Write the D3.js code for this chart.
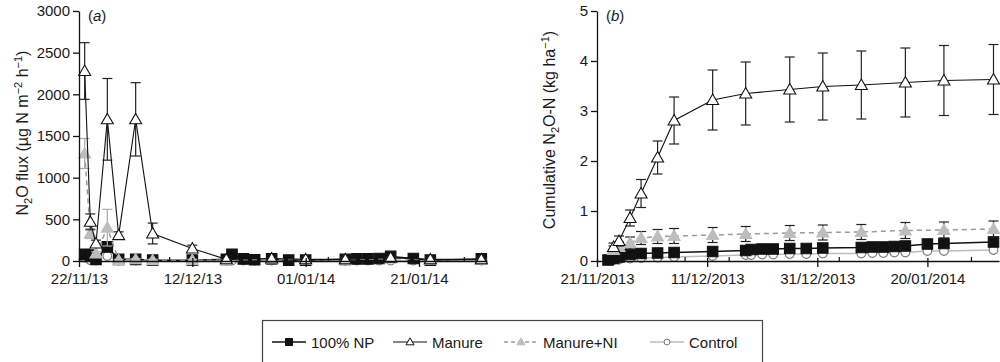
<!DOCTYPE html>
<html>
<head>
<meta charset="utf-8">
<script src="https://cdn.jsdelivr.net/npm/d3@7"></script>
<style>
  body { margin: 0; background: #fff; }
  svg { display: block; font-family: "Liberation Sans", Arial, sans-serif; }
  .axis path, .axis line { stroke: #111; stroke-width: 1.3; }
  .axis text { font-size: 15px; fill: #1a1a1a; font-family: "Liberation Sans", Arial, sans-serif; }
</style>
</head>
<body>
<div id="chart"></div>
<script>
// sampling dates (dd/mm/yyyy)
const sampleDates = ["23/11/2013", "24/11/2013", "25/11/2013", "27/11/2013", "29/11/2013", "02/12/2013",
    "05/12/2013", "12/12/2013", "18/12/2013", "19/12/2013", "21/12/2013", "23/12/2013", "26/12/2013",
    "29/12/2013", "01/01/2014", "08/01/2014", "10/01/2014", "12/01/2014", "14/01/2014", "16/01/2014",
    "20/01/2014", "23/01/2014", "01/02/2014"];

// (a) N2O flux, ug N m-2 h-1
const fluxNP =       [80, 70, 20, 170, 20, 20, 10, 10, 20, 80, 25, 15, 25, 10, 10, 20, 25, 25, 30, 55, 30, 10, 25];
const fluxManure =   [2280, 470, 210, 1700, 310, 1700, 330, 150, 20, null, null, null, 30, null, 20, 20, null, null, null, 40, null, 20, 20];
const fluxManureErr = [340, 95, 40, 490, 40, 440, 125, 40, 10, null, null, null, 10, null, 10, 10, null, null, null, 10, null, 10, 10];
const fluxManureNI = [1290, 330, 90, 400, 10, 20, 10, 10, 10, null, null, null, 20, null, 15, 15, null, null, null, 30, null, 15, 15];
const fluxManureNIErr = [180, 60, 20, 220, 10, 10, 10, 10, 10, null, null, null, 10, null, 10, 10, null, null, null, 10, null, 10, 10];
const fluxControl =  [40, 10, 5, 60, 5, 5, 5, 5, 5, 5, 5, 5, 5, 5, 5, 5, 5, 5, 5, 5, 5, 5, 5];

// (b) cumulative N2O-N, kg ha-1
const cumNP =       [0.02, 0.05, 0.08, 0.13, 0.15, 0.16, 0.17, 0.19, 0.21, 0.23, 0.24, 0.24, 0.25, 0.25, 0.26, 0.27, 0.28, 0.28, 0.29, 0.3, 0.34, 0.35, 0.38];
const cumManure =   [null, 0.28, 0.4, 0.86, 1.35, 2.07, 2.81, 3.22, 3.35, null, null, null, 3.43, null, 3.49, 3.52, null, null, null, 3.57, null, 3.61, 3.63];
const cumManureErr = [null, 0.08, 0.1, 0.16, 0.28, 0.33, 0.47, 0.6, 0.63, null, null, null, 0.65, null, 0.67, 0.68, null, null, null, 0.69, null, 0.7, 0.7];
const cumManureNI = [null, 0.22, 0.28, 0.36, 0.46, 0.49, 0.5, 0.52, 0.54, null, null, null, 0.56, null, 0.57, 0.58, null, null, null, 0.61, null, 0.62, 0.64];
const cumManureNIErr = [null, 0.08, 0.1, 0.12, 0.13, 0.14, 0.15, 0.15, 0.15, null, null, null, 0.15, null, 0.15, 0.15, null, null, null, 0.16, null, 0.16, 0.16];
const cumControl =  [0.01, 0.02, 0.03, 0.05, 0.06, 0.07, 0.08, 0.1, 0.12, 0.12, 0.13, 0.13, 0.14, 0.14, 0.15, 0.15, 0.16, 0.16, 0.17, 0.17, 0.2, 0.2, 0.22];

const fluxTicks = ["22/11/2013", "12/12/2013", "01/01/2014", "21/01/2014"];
const fluxMinorTicks = ["08/12/2013", "05/01/2014", "29/01/2014"];
const cumTicks = ["21/11/2013", "11/12/2013", "31/12/2013", "20/01/2014"];
const cumMinorTicks = ["26/11/2013", "07/12/2013", "15/12/2013", "04/01/2014", "28/01/2014"];
const fluxYTicks = [0, 500, 1000, 1500, 2000, 2500, 3000];
const cumYTicks = [0, 1, 2, 3, 4, 5];

const legendNames = ["100% NP", "Manure", "Manure+NI", "Control"];

const parse = d3.timeParse("%d/%m/%Y");
const dates = sampleDates.map(parse);

const width = 1000;
const height = 362;

const svg = d3.select("#chart").append("svg")
    .attr("width", width)
    .attr("height", height);

const styles = {
    "100% NP":   { line: "#111", dash: null, lw: 1.5, shape: d3.symbolSquare, size: 110, fill: "#111", stroke: "#111" },
    "Manure":    { line: "#111", dash: null, lw: 1.1, shape: d3.symbolTriangle, size: 62, fill: "#fff", stroke: "#111" },
    "Manure+NI": { line: "#9a9a9a", dash: "5,4", lw: 1.5, shape: d3.symbolTriangle, size: 62, fill: "#bdbdbd", stroke: "#bdbdbd" },
    "Control":   { line: "#bdbdbd", dash: null, lw: 1.3, shape: d3.symbolCircle, size: 60, fill: "#fff", stroke: "#777" }
};

function drawPanel(p) {
    const g = svg.append("g");
    const x = d3.scaleTime().domain(p.xDomain).range(p.xRange);
    const y = d3.scaleLinear().domain(p.yDomain).range([261, 11]);

    // series, back to front
    p.series.forEach(s => {
        const st = styles[s.name];
        const pts = dates.map((d, i) => ({ date: d, v: s.values[i], e: s.err ? s.err[i] : null }))
            .filter(d => d.v != null);

        const line = d3.line().x(d => x(d.date)).y(d => y(d.v));
        g.append("path")
            .attr("d", line(pts))
            .attr("fill", "none")
            .attr("stroke", st.line)
            .attr("stroke-width", st.lw)
            .attr("stroke-dasharray", st.dash);

        const withErr = pts.filter(d => d.e != null && d.e > 0);
        const eb = g.append("g").attr("stroke", s.errColor || "#222").attr("stroke-width", 1.2);
        withErr.forEach(d => {
            const cx = x(d.date);
            eb.append("line").attr("x1", cx).attr("x2", cx).attr("y1", y(d.v + d.e)).attr("y2", y(Math.max(0, d.v - d.e)));
            eb.append("line").attr("x1", cx - 5).attr("x2", cx + 5).attr("y1", y(d.v + d.e)).attr("y2", y(d.v + d.e));
            if (d.v - d.e > 0) {
                eb.append("line").attr("x1", cx - 5).attr("x2", cx + 5).attr("y1", y(d.v - d.e)).attr("y2", y(d.v - d.e));
            }
        });

        g.selectAll(null)
            .data(pts)
            .enter().append("path")
            .attr("d", d3.symbol(st.shape, st.size))
            .attr("transform", d => `translate(${x(d.date)},${y(d.v) + (st.shape === d3.symbolTriangle ? 1 : 0)})`)
            .attr("fill", st.fill)
            .attr("stroke", st.stroke)
            .attr("stroke-width", 1.1);
    });

    // axes
    g.append("g")
        .attr("class", "axis")
        .attr("transform", `translate(${p.xRange[0]},0)`)
        .call(d3.axisLeft(y).tickValues(p.yTicks).tickFormat(d3.format("d"))
            .tickSize(6).tickPadding(3).tickSizeOuter(0));

    const xAxis = g.append("g")
        .attr("class", "axis")
        .attr("transform", "translate(0,261)")
        .call(d3.axisBottom(x).tickValues(p.xTicks.map(parse)).tickFormat(d3.timeFormat(p.fmt))
            .tickSize(6).tickPadding(6).tickSizeOuter(0));
    xAxis.selectAll(".tick line").attr("y1", -3);

    g.append("g").selectAll("line")
        .data(p.minor.map(parse))
        .enter().append("line")
        .attr("x1", d => x(d)).attr("x2", d => x(d))
        .attr("y1", 261).attr("y2", 257)
        .attr("stroke", "#111").attr("stroke-width", 1.2);

    // panel letter
    const lab = g.append("text")
        .attr("x", p.xRange[0] + 9)
        .attr("y", 21)
        .attr("font-size", 15)
        .attr("fill", "#1a1a1a");
    lab.append("tspan").text("(");
    lab.append("tspan").attr("font-style", "italic").text(p.letter);
    lab.append("tspan").text(")");

    // y title
    const t = g.append("text")
        .attr("transform", `translate(${p.titleX},${p.titleY}) rotate(-90)`)
        .attr("text-anchor", "middle")
        .attr("font-size", 16)
        .attr("fill", "#1a1a1a");
    p.title.forEach(part => {
        const ts = t.append("tspan").text(part.t);
        if (part.sub) ts.attr("font-size", 11).attr("dy", 4);
        else if (part.sup) ts.attr("font-size", 11).attr("dy", -6);
        else if (part.back) ts.attr("dy", part.back);
    });
}

drawPanel({
    letter: "a",
    xDomain: [parse("22/11/2013"), parse("02/02/2014")],
    xRange: [79, 487],
    yDomain: [0, 3000],
    yTicks: fluxYTicks,
    xTicks: fluxTicks,
    minor: fluxMinorTicks,
    fmt: "%d/%m/%y",
    titleX: 28,
    titleY: 133,
    title: [{ t: "N" }, { t: "2", sub: true }, { t: "O flux (µg N m", back: -4 }, { t: "−2", sup: true },
            { t: " h", back: 6 }, { t: "−1", sup: true }, { t: ")", back: 6 }],
    series: [
        { name: "Control", values: fluxControl },
        { name: "100% NP", values: fluxNP },
        { name: "Manure+NI", values: fluxManureNI, err: fluxManureNIErr, errColor: "#aaa" },
        { name: "Manure", values: fluxManure, err: fluxManureErr }
    ]
});

drawPanel({
    letter: "b",
    xDomain: [parse("21/11/2013"), parse("02/02/2014")],
    xRange: [597, 999],
    yDomain: [0, 5],
    yTicks: cumYTicks,
    xTicks: cumTicks,
    minor: cumMinorTicks,
    fmt: "%d/%m/%Y",
    titleX: 555,
    titleY: 130,
    title: [{ t: "Cumulative N" }, { t: "2", sub: true }, { t: "O-N (kg ha", back: -4 }, { t: "−1", sup: true },
            { t: ")", back: 6 }],
    series: [
        { name: "Control", values: cumControl },
        { name: "100% NP", values: cumNP },
        { name: "Manure+NI", values: cumManureNI, err: cumManureNIErr },
        { name: "Manure", values: cumManure, err: cumManureErr }
    ]
});

// legend
const legend = svg.append("g");
legend.append("rect")
    .attr("x", 262.5).attr("y", 320.5)
    .attr("width", 500).attr("height", 60)
    .attr("fill", "none").attr("stroke", "#444").attr("stroke-width", 1.2);

const legendX = [272, 393, 504, 650];
legendNames.forEach((name, i) => {
    const st = styles[name];
    const lx = legendX[i];
    legend.append("line")
        .attr("x1", lx).attr("x2", lx + 34)
        .attr("y1", 342).attr("y2", 342)
        .attr("stroke", st.line).attr("stroke-width", st.lw)
        .attr("stroke-dasharray", st.dash ? "4,3" : null);
    legend.append("path")
        .attr("d", d3.symbol(st.shape, st.size * 0.45))
        .attr("transform", `translate(${lx + 17},${342 + (st.shape === d3.symbolTriangle ? 0.5 : 0)})`)
        .attr("fill", st.fill).attr("stroke", st.stroke).attr("stroke-width", 1);
    legend.append("text")
        .attr("x", lx + 39).attr("y", 347.5)
        .attr("font-size", 15).attr("fill", "#1a1a1a")
        .text(name);
});
</script>
</body>
</html>
